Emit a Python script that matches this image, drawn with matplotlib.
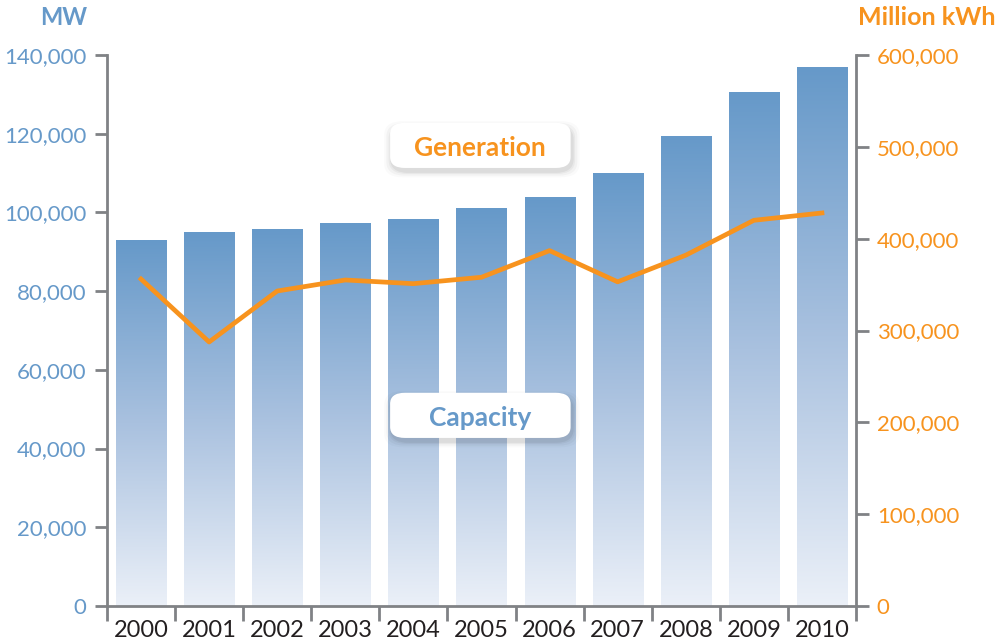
"""
Capacity vs generation, 2000-2010
"""

import numpy as np
import matplotlib
matplotlib.use('Agg')
import matplotlib.pyplot as plt
from matplotlib.colors import LinearSegmentedColormap
from matplotlib.patches import FancyBboxPatch

years = ['2000', '2001', '2002', '2003', '2004', '2005',
         '2006', '2007', '2008', '2009', '2010']
capacity_mw = [93000, 94800, 95600, 97300, 98100, 101100,
               103900, 109800, 119400, 130600, 136900]
generation_mkwh = [356000, 287500, 343000, 355000, 351000, 358000,
                   387000, 353000, 382000, 420000, 428000]

left_ticks = [0, 20000, 40000, 60000, 80000, 100000, 120000, 140000]
right_ticks = [0, 100000, 200000, 300000, 400000, 500000, 600000]

blue = '#6699c9'
orange = '#f7931e'
grey = '#808285'

plt.rcParams['font.family'] = ['Lato', 'DejaVu Sans']

fig = plt.figure(figsize=(9.98, 6.42), dpi=100)
ax = fig.add_axes([0.1072, 0.0561, 0.7505, 0.8582])

# gradient bars
cmap = LinearSegmentedColormap.from_list('bars', ['#ebf0f8', '#a9c1df', blue])
grad = np.linspace(0, 1, 256).reshape(-1, 1)
x = np.arange(len(years))
w = 0.735
for xi, h in zip(x, capacity_mw):
    ax.imshow(grad, extent=[xi - w / 2, xi + w / 2, 0, h], origin='lower',
              aspect='auto', cmap=cmap, zorder=1)

ax.set_xlim(-0.5, len(years) - 0.5)
ax.set_ylim(0, 140000)

for s in ['top', 'right']:
    ax.spines[s].set_visible(False)
for s in ['left', 'bottom']:
    ax.spines[s].set_color(grey)
    ax.spines[s].set_linewidth(2)

ax.set_yticks(left_ticks)
ax.set_yticklabels([f'{v:,}' for v in left_ticks])
ax.tick_params(axis='y', colors=grey, labelcolor=blue, length=9, width=2,
               labelsize=16, pad=6)
ax.set_xticks(np.arange(len(years) + 1) - 0.5)
ax.set_xticklabels([])
ax.set_xticks(x, minor=True)
ax.set_xticklabels(years, minor=True)
ax.tick_params(axis='x', which='major', colors=grey, length=11, width=2)
ax.tick_params(axis='x', which='minor', length=0, labelsize=17,
               labelcolor='#231f20', pad=10)

ax2 = ax.twinx()
ax2.plot(x, generation_mkwh, color=orange, lw=3.4, solid_joinstyle='round',
         zorder=3)
ax2.set_ylim(0, 600000)
ax2.set_yticks(right_ticks)
ax2.set_yticklabels([f'{v:,}' for v in right_ticks])
for s in ['top', 'left', 'bottom']:
    ax2.spines[s].set_visible(False)
ax2.spines['right'].set_color(grey)
ax2.spines['right'].set_linewidth(2)
ax2.tick_params(axis='y', colors=grey, labelcolor=orange, length=9, width=2,
                labelsize=16, pad=6)

# series labels in rounded boxes with a soft shadow
def label_box(y0, text, color):
    x0, bw, bh = 0.378, 0.241, 0.082
    for d, a in [(0.010, 0.02), (0.007, 0.03), (0.004, 0.04), (0.002, 0.05)]:
        sh = FancyBboxPatch((x0 + 0.002, y0 - 0.007), bw, bh,
                            boxstyle=f'round,pad={d},rounding_size=0.025',
                            transform=ax2.transAxes, fc='black', ec='none',
                            alpha=a, zorder=4)
        ax2.add_patch(sh)
    box = FancyBboxPatch((x0, y0), bw, bh,
                         boxstyle='round,pad=0,rounding_size=0.02',
                         transform=ax2.transAxes, fc='white', ec='none',
                         zorder=5)
    ax2.add_patch(box)
    ax2.text(x0 + bw / 2, y0 + bh / 2 - 0.004, text, transform=ax2.transAxes,
             ha='center', va='center', color=color, fontsize=19,
             fontweight='bold', zorder=6)

label_box(0.795, 'Generation', orange)
label_box(0.305, 'Capacity', blue)

fig.text(0.064, 0.972, 'MW', color=blue, fontsize=17, fontweight='bold',
         ha='center', va='center')
fig.text(0.997, 0.972, 'Million kWh', color=orange, fontsize=18,
         fontweight='bold', ha='right', va='center')

fig.savefig('out.png', dpi=100)
